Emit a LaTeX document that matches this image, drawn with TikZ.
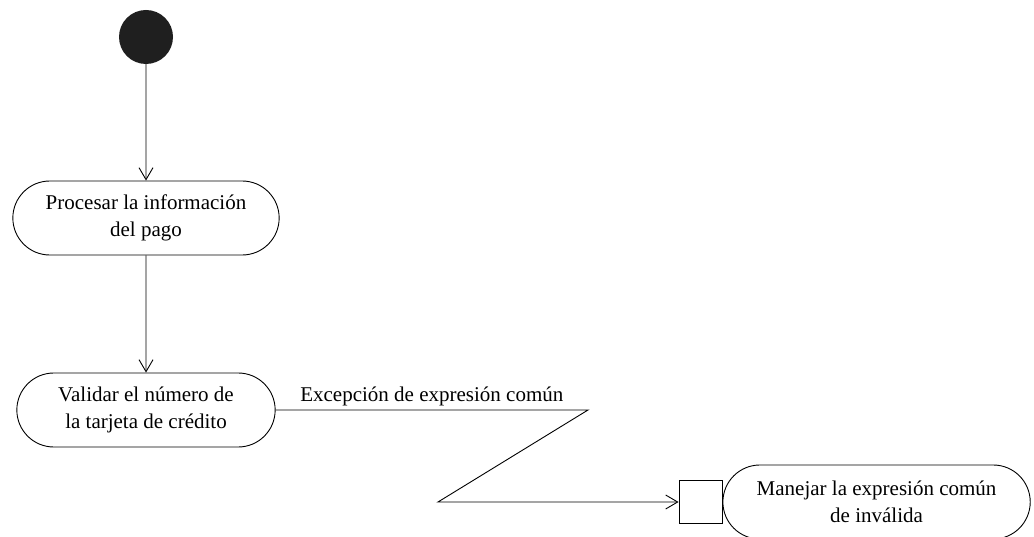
\documentclass[tikz,border=0pt]{standalone}
\usepackage{fontspec}
\setmainfont{Liberation Serif}
\usepackage{tikz}
\usetikzlibrary{shapes.misc, arrows.meta, positioning}

\begin{document}
\begin{tikzpicture}[
    x=1pt, y=1pt,
    every node/.style={font=\fontsize{21}{27}\selectfont},
    activity/.style={rounded rectangle, draw, line width=0.9pt, minimum height=74pt, align=center},
    initial/.style={circle, fill=black!88, minimum size=54pt, inner sep=0pt},
    pinbox/.style={rectangle, draw, line width=0.9pt, minimum size=43pt, inner sep=0pt},
    arrow/.style={-{Straight Barb[length=12pt, width=14pt]}, line width=0.9pt}
]
\useasboundingbox (0,0) rectangle (1034,-537);

\node[initial] (start) at (146,-37) {};
\node[activity, minimum width=273pt] (proc) at (146,-218) {Procesar la información\\del pago};
\node[activity, minimum width=265pt] (valid) at (146,-410) {Validar el número de\\la tarjeta de crédito};
\node[pinbox] (pin) at (700.5,-502) {};
\node[activity, minimum width=314pt, right=0pt of pin] (handle) {Manejar la expresión común\\de inválida};

% zigzag of the exception
\coordinate (zr) at (588,-410);
\coordinate (zl) at (438,-502);

\draw[arrow] (start) -- (proc);
\draw[arrow] (proc) -- (valid);
\draw[arrow] (valid.east) -- node[above] {Excepción de expresión común} (zr) -- (zl) -- (pin.west);

\end{tikzpicture}
\end{document}
